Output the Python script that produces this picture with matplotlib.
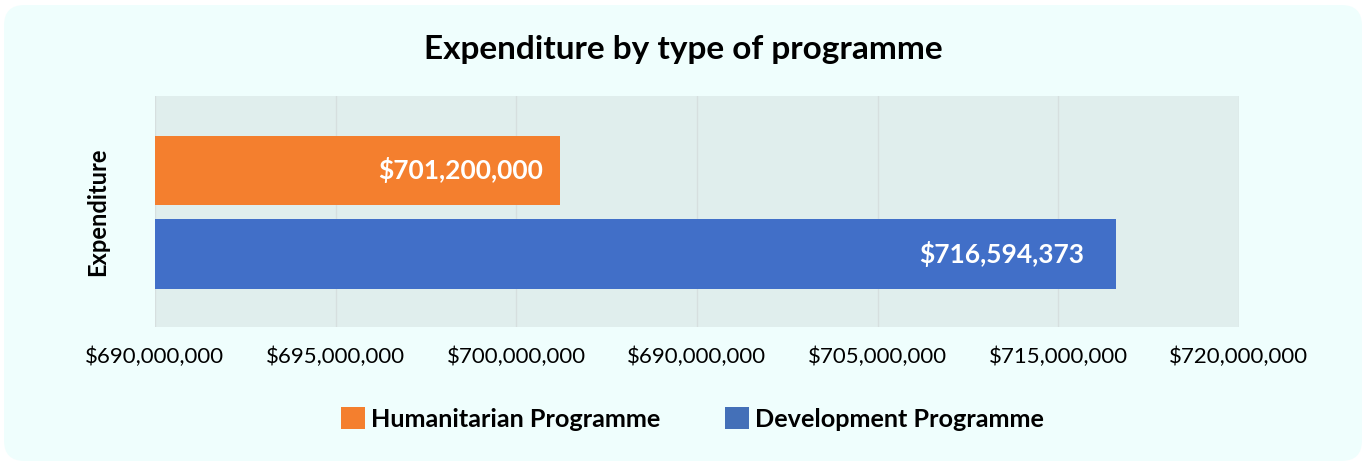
import matplotlib.pyplot as plt
from matplotlib.patches import FancyBboxPatch, Patch

# ============================================================
# Data
# ============================================================
programmes = ["Humanitarian Programme", "Development Programme"]
expenditure = [701200000, 716594373]
bar_labels = ["$701,200,000", "$716,594,373"]
bar_colors = ["#f47f2e", "#416fc8"]
legend_colors = ["#f47f2e", "#4470b8"]

x_ticks = [690e6, 695e6, 700e6, 705e6, 710e6, 715e6, 720e6]
# tick labels as printed in the original chart
x_tick_labels = ["$690,000,000", "$695,000,000", "$700,000,000", "$690,000,000",
                 "$705,000,000", "$715,000,000", "$720,000,000"]

plt.rcParams["font.family"] = ["Lato", "DejaVu Sans"]

# ============================================================
# Figure
# ============================================================
fig = plt.figure(figsize=(13.67, 4.66), dpi=100, facecolor="white")

# rounded light-cyan card behind everything
card = FancyBboxPatch((4 / 1367, 5 / 466), 1358 / 1367, 456 / 466,
                      boxstyle="round,pad=0,rounding_size=0.015",
                      transform=fig.transFigure, facecolor="#effefd",
                      edgecolor="none", mutation_aspect=1367 / 466, zorder=-10)
fig.patches.append(card)

ax = fig.add_axes([155 / 1367, 1 - 327 / 466, 1084 / 1367, 231 / 466])
ax.set_facecolor("#e0eeed")

ypos = [0, 1]
ax.barh(ypos, [v - x_ticks[0] for v in expenditure], left=x_ticks[0],
        height=0.83, color=bar_colors, zorder=3)

# value labels inside bar ends
pads = [-12, -23]
for y, v, lab, p in zip(ypos, expenditure, bar_labels, pads):
    ax.annotate(lab, xy=(v, y), xytext=(p, 0), textcoords="offset points",
                ha="right", va="center", color="white", fontsize=19,
                fontweight="bold", zorder=4)

ax.set_xlim(x_ticks[0], x_ticks[-1])
ax.set_ylim(1.874, -0.892)
ax.set_xticks(x_ticks)
ax.set_xticklabels(x_tick_labels, fontsize=16)
ax.set_yticks([])
ax.tick_params(axis="x", length=0, pad=14)
ax.grid(True, axis="x", color="#d6dfdf", linewidth=1, zorder=1)
for s in ax.spines.values():
    s.set_visible(False)

ax.set_ylabel("Expenditure", fontsize=17, fontweight="bold", labelpad=33)

fig.text(0.5, 1 - 50 / 466, "Expenditure by type of programme",
         ha="center", va="center", fontsize=24, fontweight="bold")

handles = [Patch(facecolor=c, edgecolor="none") for c in legend_colors]
fig.legend(handles, programmes, loc="center",
           bbox_to_anchor=(0.5 + 9 / 1367, 1 - 419 / 466),
           ncol=2, frameon=False, prop={"size": 18.2, "weight": "bold"},
           handlelength=0.95, handleheight=0.95, handletextpad=0.25,
           columnspacing=2.53)

fig.savefig("out.png", dpi=100, facecolor="white")
